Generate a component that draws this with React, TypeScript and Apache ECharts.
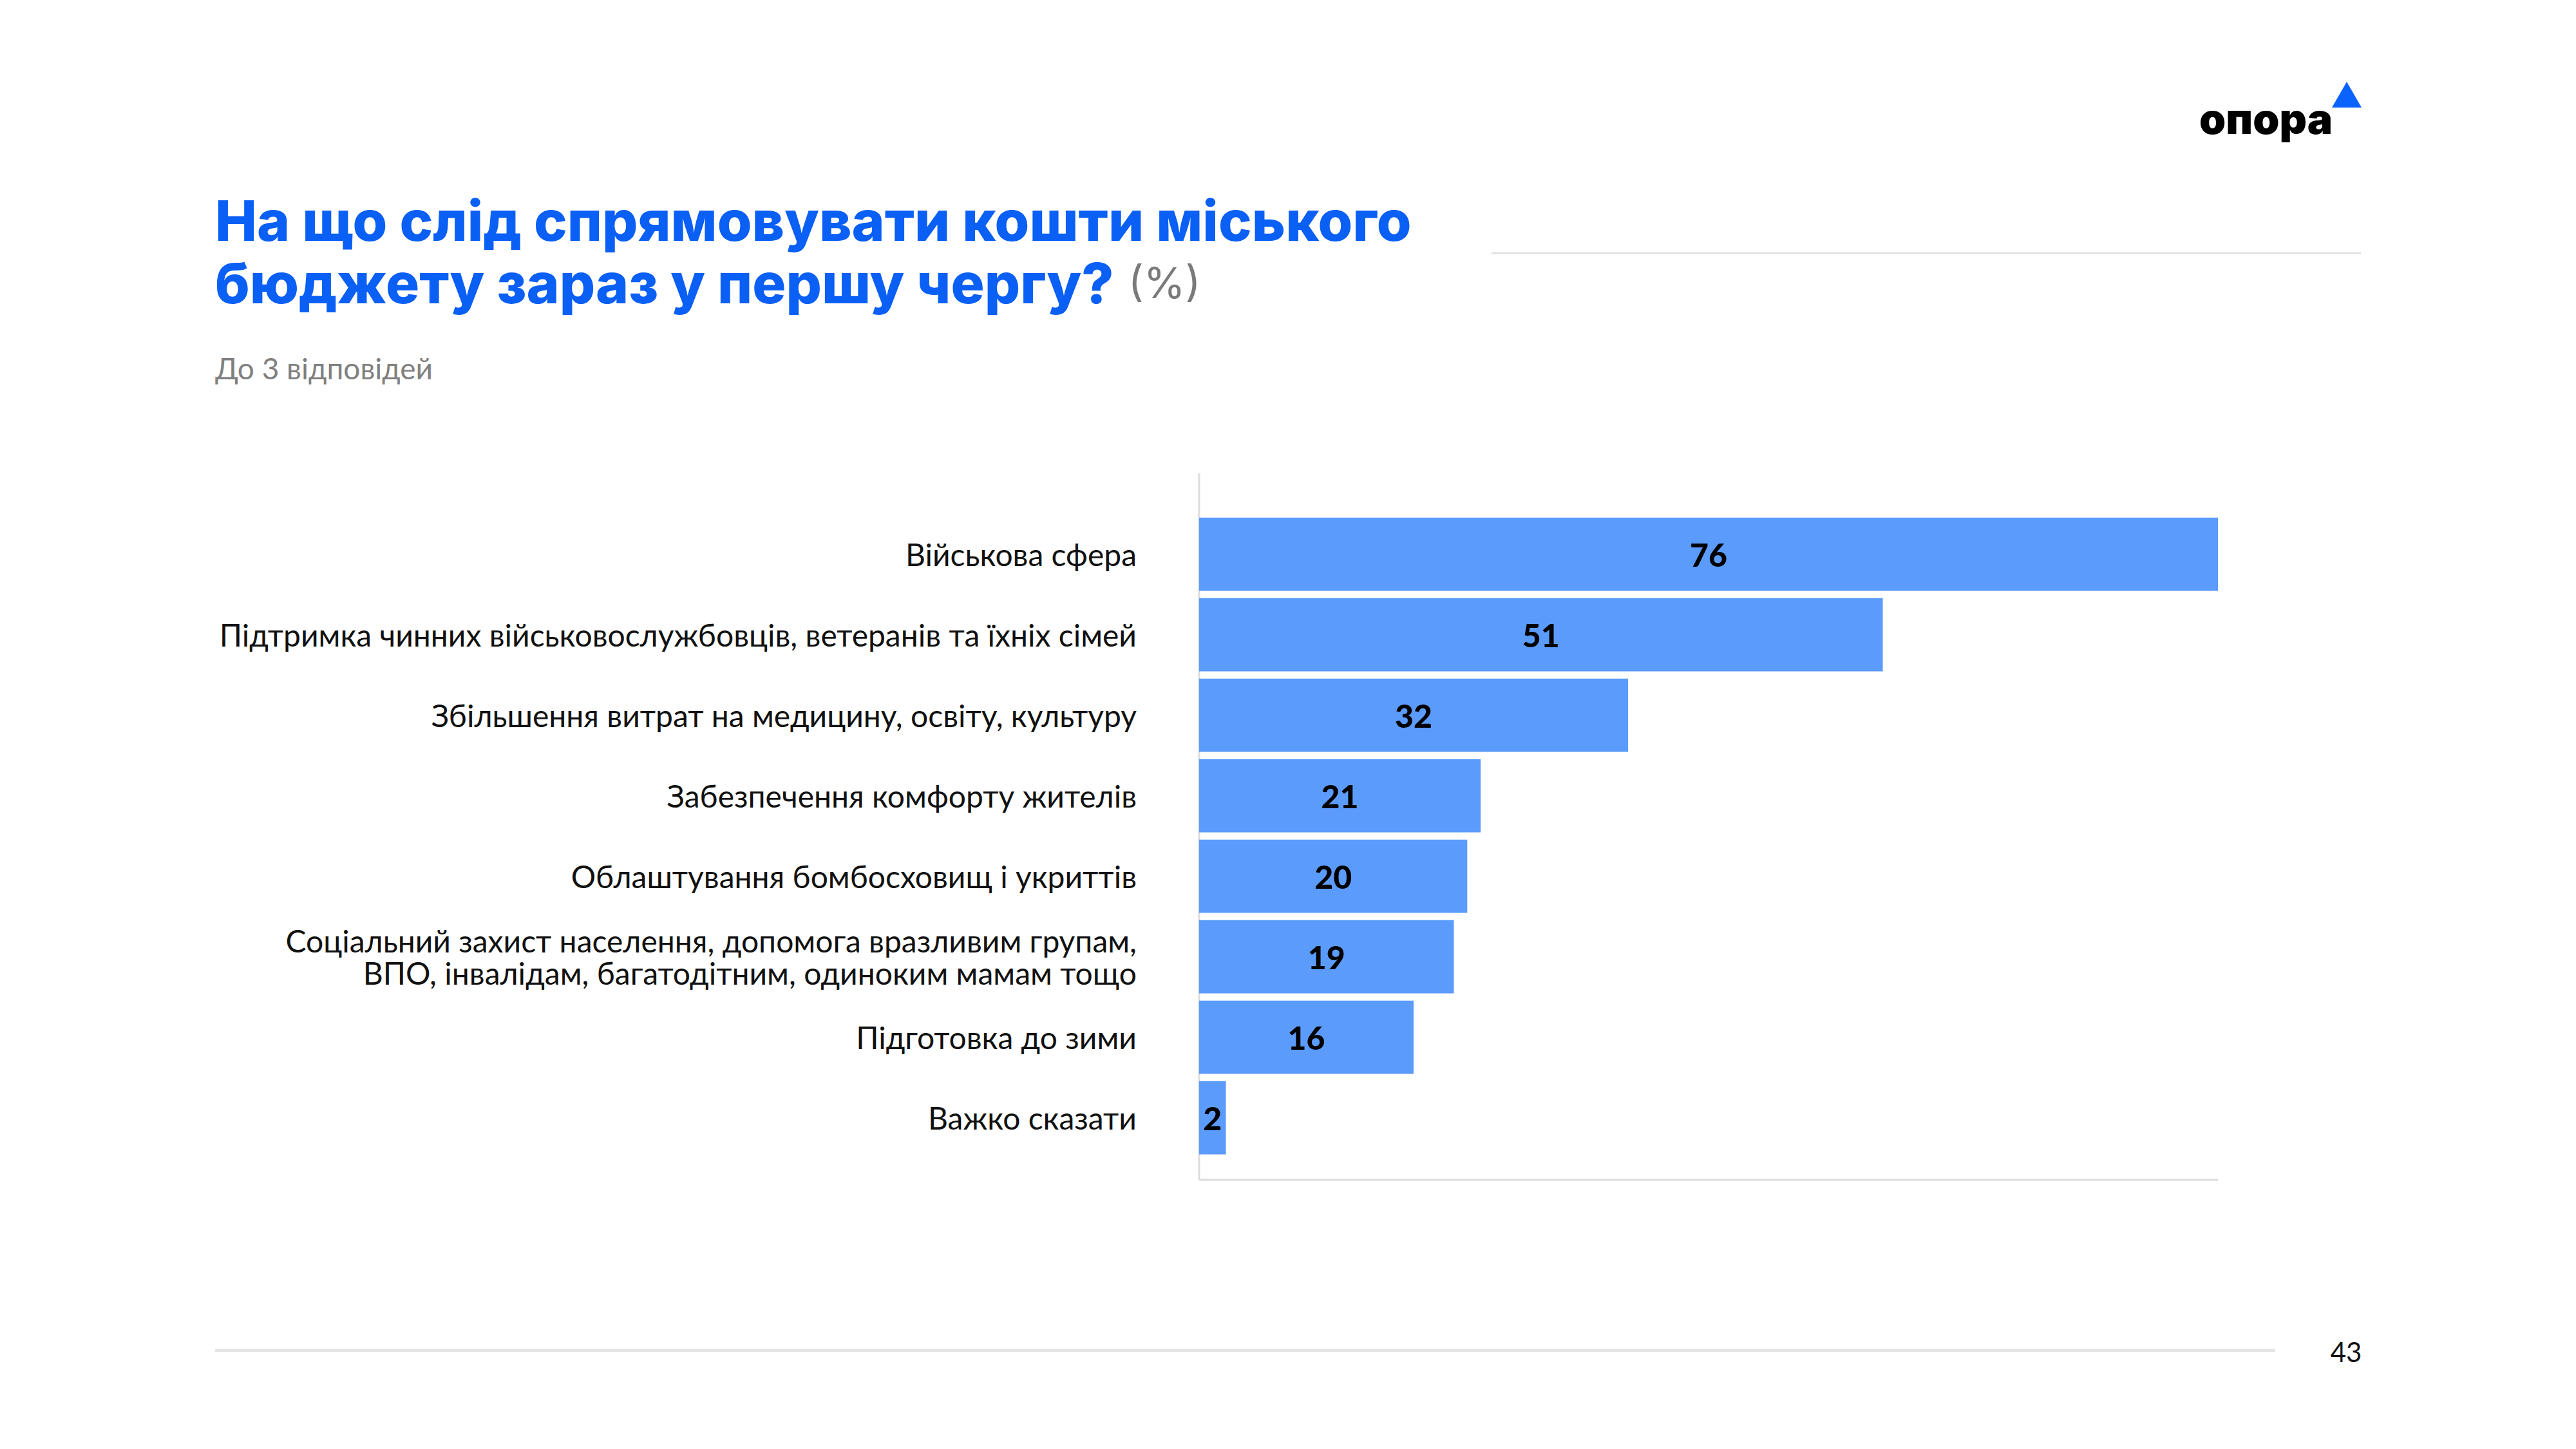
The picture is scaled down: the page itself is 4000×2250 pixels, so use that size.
import React, { useEffect, useRef } from "react";
import * as echarts from "echarts";

const categories: string[] = [
  "Військова сфера",
  "Підтримка чинних військовослужбовців, ветеранів та їхніх сімей",
  "Збільшення витрат на медицину, освіту, культуру",
  "Забезпечення комфорту жителів",
  "Облаштування бомбосховищ і укриттів",
  "Соціальний захист населення, допомога вразливим групам,\nВПО, інвалідам, багатодітним, одиноким мамам тощо",
  "Підготовка до зими",
  "Важко сказати",
];
const values: number[] = [76, 51, 32, 21, 20, 19, 16, 2];

const titleLine1 = "На що слід спрямовувати кошти міського";
const titleLine2 = "бюджету зараз у першу чергу?";
const titleUnit = "(%)";
const subtitle = "До 3 відповідей";
const pageNumber = "43";
const logoText = "опора";

const BLUE = "#0a5ff5";
const BAR = "#5b9bfc";

export default function App() {
  const ref = useRef<HTMLDivElement>(null);
  useEffect(() => {
    document.body.style.margin = "0";
    const chart = echarts.init(ref.current!, undefined, { renderer: "svg" });
    const gridLeft = 1862;
    const gridRight = 556;
    const gridTop = 798;
    const gridBottom = 452;
    chart.setOption({
      animation: false,
      backgroundColor: "#ffffff",
      grid: { left: gridLeft, right: gridRight, top: gridTop, bottom: gridBottom, containLabel: false },
      xAxis: {
        type: "value",
        min: 0,
        max: 76,
        show: false,
      },
      yAxis: {
        type: "category",
        data: categories,
        inverse: true,
        axisLine: { show: false },
        axisTick: { show: false },
        splitLine: { show: false },
        axisLabel: {
          margin: 97,
          color: "#111111",
          fontFamily: "Lato, 'Noto Sans', sans-serif",
          fontSize: 48,
          lineHeight: 50,
          align: "right",
        },
      },
      series: [
        {
          type: "bar",
          data: values,
          barCategoryGap: "9%",
          itemStyle: { color: BAR },
          label: {
            show: true,
            position: "inside",
            color: "#000000",
            fontFamily: "Lato, 'Noto Sans', sans-serif",
            fontWeight: 900,
            fontSize: 50,
          },
        },
      ],
      graphic: [
        {
          type: "line",
          shape: { x1: gridLeft, y1: 735, x2: gridLeft, y2: 1832 },
          style: { stroke: "#dcdcdc", lineWidth: 3 },
        },
        {
          type: "line",
          shape: { x1: gridLeft, y1: 1832, x2: 4000 - gridRight, y2: 1832 },
          style: { stroke: "#dcdcdc", lineWidth: 3 },
        },
        {
          type: "text",
          x: 334,
          y: 342,
          style: {
            text: titleLine1,
            fill: BLUE,
            fontFamily: "Inter, 'Noto Sans', sans-serif",
            fontWeight: 800,
            fontSize: 87,
            verticalAlign: "middle",
          },
        },
        {
          type: "text",
          x: 334,
          y: 439,
          style: {
            text: "{a|" + titleLine2 + "}{s| }{b|" + titleUnit + "}",
            verticalAlign: "middle",
            rich: {
              a: {
                fill: BLUE,
                fontFamily: "Inter, 'Noto Sans', sans-serif",
                fontWeight: 800,
                fontSize: 87,
              },
              s: {
                fontSize: 87,
                width: 22,
              },
              b: {
                fill: "#7a7a7a",
                fontFamily: "Inter, 'Noto Sans', sans-serif",
                fontWeight: 400,
                fontSize: 66,
              },
            },
          },
        },
        {
          type: "text",
          x: 334,
          y: 571,
          style: {
            text: subtitle,
            fill: "#808080",
            fontFamily: "Lato, 'Noto Sans', sans-serif",
            fontSize: 46,
            verticalAlign: "middle",
          },
        },
        {
          type: "line",
          shape: { x1: 2316, y1: 393, x2: 3666, y2: 393 },
          style: { stroke: "#e2e2e2", lineWidth: 3 },
        },
        {
          type: "line",
          shape: { x1: 334, y1: 2097, x2: 3533, y2: 2097 },
          style: { stroke: "#e3e3e3", lineWidth: 4 },
        },
        {
          type: "text",
          x: 3643,
          y: 2099,
          style: {
            text: pageNumber,
            fill: "#111111",
            fontFamily: "Lato, 'Noto Sans', sans-serif",
            fontSize: 42,
            align: "center",
            verticalAlign: "middle",
          },
        },
        {
          type: "text",
          x: 3415,
          y: 184,
          style: {
            text: logoText,
            fill: "#000000",
            fontFamily: "Inter, 'Noto Sans', sans-serif",
            fontWeight: 900,
            fontSize: 66,
            verticalAlign: "middle",
          },
        },
        {
          type: "polygon",
          shape: { points: [[3621, 167], [3667, 167], [3644, 127]] },
          style: { fill: "#0a62ff" },
        },
      ],
    });
    return () => chart.dispose();
  }, []);
  return (
    <div
      ref={ref}
      style={{ position: "fixed", left: 0, top: 0, width: 4000, height: 2250 }}
    />
  );
}
